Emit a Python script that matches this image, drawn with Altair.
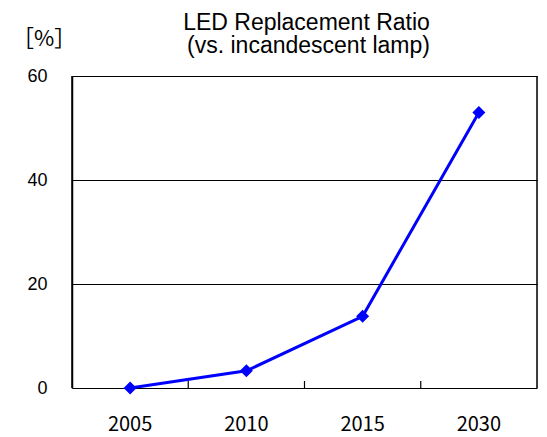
import altair as alt
import pandas as pd

years = ["2005", "2010", "2015", "2030"]
ratio = [0, 3.3, 13.8, 53]
tick_years = ["2010", "2015", "2030"]
edge_first = ["2005"]
edge_last = ["2030"]
title_line1 = ["LED Replacement Ratio"]
title_line2 = ["(vs. incandescent lamp)"]
unit_label = ["［%］"]
y_ticks = [0, 20, 40, 60]

df = pd.DataFrame({"year": years, "ratio": ratio})
ticks_df = pd.DataFrame({"year": tick_years})

W, H = 465, 312

xscale = alt.Scale(type="band", domain=years, paddingInner=0, paddingOuter=0)
yscale = alt.Scale(domain=[0, 60])

x_enc = alt.X(
    "year:N", scale=xscale, bandPosition=0.5,
    axis=alt.Axis(title=None, labelAngle=0, ticks=False, domain=False, grid=False,
                  labelFont="Noto Sans CJK JP", labelFontSize=20, labelColor="black",
                  labelPadding=26),
)
y_enc = alt.Y(
    "ratio:Q", scale=yscale,
    axis=alt.Axis(title=None, values=y_ticks, ticks=False, domain=True,
                  domainColor="black", domainWidth=1.5, grid=True,
                  gridColor="black", gridWidth=1, gridOpacity=1,
                  labelFont="Liberation Sans", labelFontSize=18, labelColor="black",
                  labelPadding=25),
)


def vedge(cats, band_pos):
    return alt.Chart(pd.DataFrame({"year": cats})).mark_rule(color="black", strokeWidth=1.5).encode(
        x=alt.X("year:N", scale=xscale, bandPosition=band_pos),
        y=alt.value(0),
        y2=alt.value(H),
    )


line = alt.Chart(df).mark_line(color="#0000FF", strokeWidth=3).encode(x=x_enc, y=y_enc)
pts = alt.Chart(df).mark_point(shape="diamond", filled=True, color="#0000FF", size=170, opacity=1).encode(
    x=alt.X("year:N", scale=xscale, bandPosition=0.5),
    y=alt.Y("ratio:Q", scale=yscale),
)
ticks = alt.Chart(ticks_df).mark_rule(color="black", strokeWidth=1.2).encode(
    x=alt.X("year:N", scale=xscale, bandPosition=0),
    y=alt.value(H),
    y2=alt.value(H - 7),
)


def text_layer(lines, x, y, font, size, baseline="alphabetic"):
    return alt.Chart(pd.DataFrame({"t": lines})).mark_text(
        font=font, fontSize=size, color="black", align="center", baseline=baseline
    ).encode(text="t:N", x=alt.value(x), y=alt.value(y))


unit = text_layer(unit_label, -28, -37, "Noto Sans CJK JP", 22, "middle")
t1 = text_layer(title_line1, W / 2 + 2, -46, "Liberation Sans", 23)
t2 = text_layer(title_line2, W / 2 + 4, -23, "Liberation Sans", 23)

chart = alt.layer(
    line, vedge(edge_first, 0), vedge(edge_last, 1),
    pts, ticks, unit, t1, t2,
).properties(
    width=W, height=H,
    autosize=alt.AutoSizeParams(type="none"),
    padding={"left": 64, "top": 68, "right": 2, "bottom": 49},
).configure(background="white")

chart.save("out.html", embed_options={"renderer": "svg", "actions": False})
